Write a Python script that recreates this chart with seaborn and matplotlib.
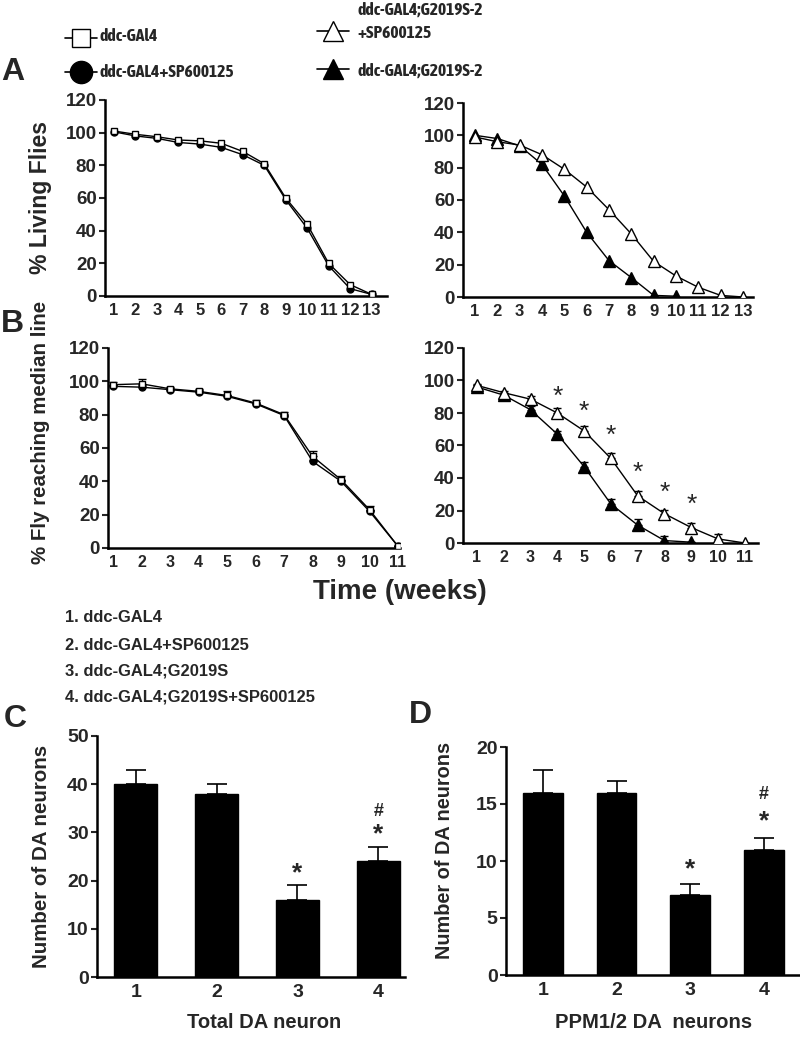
import matplotlib
matplotlib.use("Agg")
import matplotlib.pyplot as plt
import seaborn as sns
import numpy as np
from matplotlib.lines import Line2D
from matplotlib import font_manager

# ---- data ----
# Panel A: % living flies per week
weeks_a = list(range(1, 14))
a_gal4 = [101, 99, 97.5, 95.5, 95, 93.5, 88.5, 81, 60, 44, 20, 7, 1]
a_gal4_sp = [100.5, 98, 96.5, 94, 93, 91, 86.5, 80, 59, 41.5, 18.5, 4.5, 1]
a_g2019s_sp = [99, 96, 94, 88, 79, 68, 54, 39, 22, 13, 6, 1, 0]
weeks_a_g2019s = list(range(1, 11))
a_g2019s = [100, 98, 93.5, 82, 62.5, 40, 22.5, 12, 1, 0.5]

# Panel B: % flies reaching median line
weeks_b = list(range(1, 12))
b_gal4 = [98, 98.5, 95.5, 94, 91.5, 87, 80, 55, 41, 23, 1]
b_gal4_err = [1.5, 3, 1, 1.5, 2.5, 2, 1.5, 3, 2, 2, 0]
b_gal4_sp = [97, 96.5, 95, 93.5, 91, 86.5, 79.5, 52, 40, 22, 1]
b_gal4_sp_err = [1, 1, 1, 1, 1, 1, 1, 1, 1, 1, 0]
b_g2019s_sp = [97, 92.5, 88.5, 80, 69, 52, 29, 18, 9.5, 2.5, 0]
b_g2019s_sp_err = [1, 1, 2, 3, 3, 3.5, 3, 2.5, 3, 3, 0]
weeks_b_g2019s = list(range(1, 10))
b_g2019s = [96, 91, 82, 67, 47, 24, 11, 1.5, 0.5]
b_g2019s_err = [1, 1, 2, 2, 3, 3, 4, 3, 0]
star_weeks = [4, 5, 6, 7, 8, 9]
star_y = [90, 81, 66, 43, 31, 23.5]

# Panels C, D: DA neuron counts
groups = [1, 2, 3, 4]
total_da = [40, 38, 16, 24]
total_da_err = [3, 2, 3, 3]
ppm_da = [16, 16, 7, 11]
ppm_da_err = [2, 1, 1, 1]
group_names = ["1. ddc-GAL4", "2. ddc-GAL4+SP600125", "3. ddc-GAL4;G2019S",
               "4. ddc-GAL4;G2019S+SP600125"]

# ---- style ----
sns.set_style("ticks")
plt.rcParams['font.family'] = ['Liberation Sans', 'DejaVu Sans']
plt.rcParams['font.weight'] = 'bold'

# bold narrow face for the top legend, if one is installed
narrow = ['Liberation Sans']
narrow_size = 10.5
for f in font_manager.fontManager.ttflist:
    if ('Narrow' in f.name or 'Condensed' in f.name) and f.weight in (700, 'bold'):
        narrow = [f.name, 'Liberation Sans']
        narrow_size = 12.6
        break

W, H = 800, 1038
fig = plt.figure(figsize=(W / 100, H / 100), dpi=100, facecolor='white')


def px_axes(left, top, right, bottom):
    return fig.add_axes([left / W, 1 - bottom / H, (right - left) / W, (bottom - top) / H])


def style_axes(ax, ysize=13.5, xsize=12, xtick_len=0):
    sns.despine(ax=ax)
    for s in ['left', 'bottom']:
        ax.spines[s].set_linewidth(1.8)
        ax.spines[s].set_color('black')
    ax.tick_params(axis='y', direction='out', length=4, width=1.5, labelsize=ysize, pad=2)
    ax.tick_params(axis='x', length=xtick_len, labelsize=xsize, pad=5)
    for lab in ax.get_xticklabels() + ax.get_yticklabels():
        lab.set_fontweight('bold')
    ax.set_xlabel('')
    ax.set_ylabel('')
    ax.set_facecolor('none')


def line(ax, x, y, marker, filled, ms, err=None):
    sns.lineplot(x=x, y=y, ax=ax, color='black', lw=1, marker=marker, ms=ms,
                 mfc='black' if filled else 'white', mec='black', mew=1,
                 errorbar=None, zorder=3)
    if err is not None:
        ax.errorbar(x, y, yerr=[np.zeros(len(err)), err], fmt='none',
                    ecolor='black', elinewidth=1, capsize=3, capthick=1, zorder=2)


# Panel A left
ax = px_axes(105, 100, 387, 296)
line(ax, weeks_a, a_gal4_sp, 'o', True, 5)
line(ax, weeks_a, a_gal4, 's', False, 5)
ax.set_xlim(0.58, 13.72)
ax.set_ylim(0, 120)
ax.set_yticks(range(0, 121, 20))
ax.set_xticks(weeks_a)
style_axes(ax)

# Panel A right
ax = px_axes(463, 103, 753, 297)
line(ax, weeks_a_g2019s, a_g2019s, '^', True, 8)
line(ax, weeks_a, a_g2019s_sp, '^', False, 8)
ax.set_xlim(0.46, 13.45)
ax.set_ylim(0, 120)
ax.set_yticks(range(0, 121, 20))
ax.set_xticks(weeks_a)
style_axes(ax)

# Panel B left
ax = px_axes(108, 348, 400, 548)
line(ax, weeks_b, b_gal4_sp, 'o', True, 5, b_gal4_sp_err)
line(ax, weeks_b, b_gal4, 's', False, 5, b_gal4_err)
ax.set_xlim(0.82, 11.07)
ax.set_ylim(0, 120)
ax.set_yticks(range(0, 121, 20))
ax.set_xticks(weeks_b)
style_axes(ax, xsize=11.5)

# Panel B right
ax = px_axes(463, 348, 758, 543)
line(ax, weeks_b_g2019s, b_g2019s, '^', True, 8, b_g2019s_err)
line(ax, weeks_b, b_g2019s_sp, '^', False, 8, b_g2019s_sp_err)
for wx, wy in zip(star_weeks, star_y):
    ax.text(wx, wy, '*', ha='center', va='center', fontsize=19, fontweight='normal')
ax.set_xlim(0.48, 11.49)
ax.set_ylim(0, 120)
ax.set_yticks(range(0, 121, 20))
ax.set_xticks(weeks_b)
style_axes(ax, xsize=11.5)


def bars(ax, vals, errs, width):
    sns.barplot(x=groups, y=vals, native_scale=True, width=width, color='black',
                saturation=1, edgecolor='black', errorbar=None, ax=ax, zorder=2)
    ax.errorbar(groups, vals, yerr=[np.zeros(len(errs)), errs], fmt='none',
                ecolor='black', elinewidth=1.2, capsize=7, capthick=1.2, zorder=1)


# Panel C
ax = px_axes(97, 736, 405, 977)
bars(ax, total_da, total_da_err, 0.53)
ax.text(3, 21.5, '*', ha='center', va='center', fontsize=19)
ax.text(4, 29.5, '*', ha='center', va='center', fontsize=19)
ax.text(4, 34.3, '#', ha='center', va='center', fontsize=13)
ax.set_xlim(0.52, 4.33)
ax.set_ylim(0, 50)
ax.set_yticks(range(0, 51, 10))
ax.set_xticks(groups)
ax.set_xticklabels([str(g) for g in groups])
style_axes(ax, ysize=14, xsize=14)

# Panel D
ax = px_axes(506, 747, 800, 975)
bars(ax, ppm_da, ppm_da_err, 0.54)
ax.text(3, 9.3, '*', ha='center', va='center', fontsize=19)
ax.text(4, 13.5, '*', ha='center', va='center', fontsize=19)
ax.text(4, 15.8, '#', ha='center', va='center', fontsize=13)
ax.set_xlim(0.5, 4.49)
ax.set_ylim(0, 20)
ax.set_yticks(range(0, 21, 5))
ax.set_xticks(groups)
ax.set_xticklabels([str(g) for g in groups])
style_axes(ax, ysize=14, xsize=14)


def ftext(x, y, s, **kw):
    kw.setdefault('fontweight', 'bold')
    fig.text(x / W, 1 - y / H, s, **kw)


# axis labels and panel letters
ftext(41, 197, '% Living Flies', rotation=90, ha='center', va='center', fontsize=16.6)
ftext(41, 432, '% Fly reaching median line', rotation=90, ha='center', va='center', fontsize=14.8)
ftext(400, 592, 'Time (weeks)', ha='center', va='center', fontsize=20)
ftext(42, 856, 'Number of DA neurons', rotation=90, ha='center', va='center', fontsize=14.8)
ftext(445, 850, 'Number of DA neurons', rotation=90, ha='center', va='center', fontsize=14.3)
ftext(264, 1022, 'Total DA neuron', ha='center', va='center', fontsize=14.5)
ftext(654, 1022, 'PPM1/2 DA  neurons', ha='center', va='center', fontsize=14.6)
for letter, lx, ly in [('A', 13, 72), ('B', 12, 324), ('C', 15, 719), ('D', 420, 715)]:
    ftext(lx, ly, letter, ha='center', va='center', fontsize=23)

for i, name in enumerate(group_names):
    ftext(65, [617, 645, 671, 697][i], name, ha='left', va='center', fontsize=11.9)


# top legends, drawn in figure pixels
def legend_entry(x0, x1, y, marker, filled, ms):
    xs = np.array([x0, (x0 + x1) / 2, x1]) / W
    ys = np.full(3, 1 - y / H)
    fig.add_artist(Line2D(xs, ys, transform=fig.transFigure, color='black', lw=1.2,
                          marker=marker, markevery=[1], ms=ms,
                          mfc='black' if filled else 'white', mec='black', mew=1))


legend_entry(65, 97, 38, 's', False, 13)
legend_entry(65, 97, 72, 'o', True, 16)
legend_entry(317, 349, 31, '^', False, 15)
legend_entry(317, 349, 69, '^', True, 15)
legend_texts = [(100, 36, 'ddc-GAl4'), (100, 72, 'ddc-GAL4+SP600125'),
                (358, 10, 'ddc-GAL4;G2019S-2'), (358, 33, '+SP600125'),
                (358, 71, 'ddc-GAL4;G2019S-2')]
for tx, ty, s in legend_texts:
    ftext(tx, ty, s, ha='left', va='center', fontsize=narrow_size, family=narrow)

fig.savefig('out.png', dpi=100, facecolor='white')
